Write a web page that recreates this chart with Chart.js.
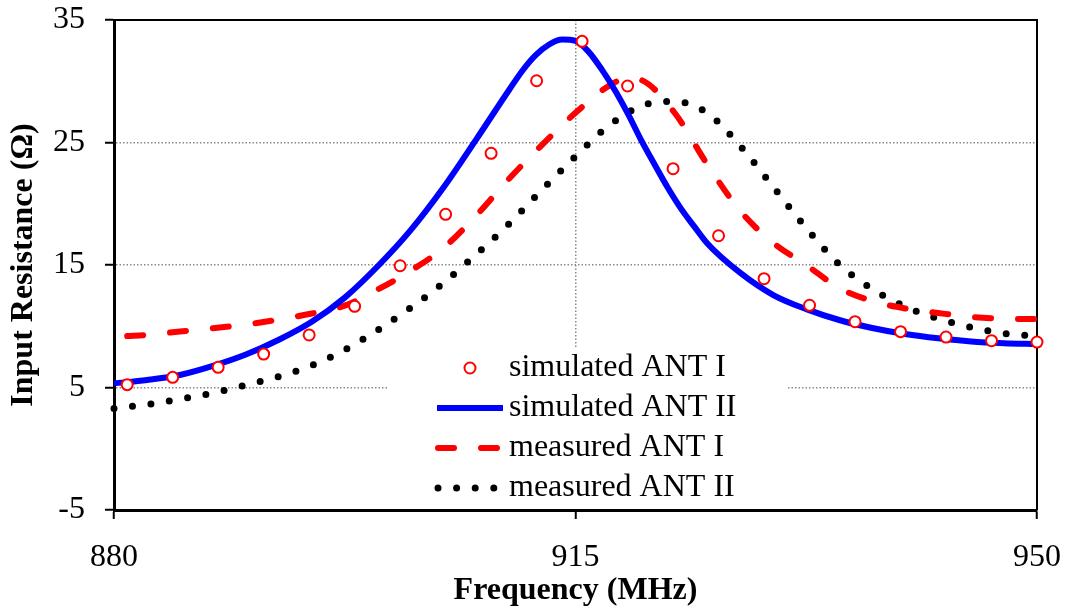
<!DOCTYPE html>
<html>
<head>
<meta charset="utf-8">
<title>Input Resistance</title>
<script src="https://cdn.jsdelivr.net/npm/chart.js@4.4.1/dist/chart.umd.min.js"></script>
<style>
  html, body { margin: 0; padding: 0; background: #fff; }
  #wrap { width: 1069px; height: 614px; }
</style>
</head>
<body>
<div id="wrap"><canvas id="chart" width="1069" height="614"></canvas></div>
<script>
// ---- data ----
const freqSimI = [881, 884.45, 887.9, 891.35, 894.8, 898.25, 901.7, 905.15, 908.6, 912.05, 915.5,
                  918.95, 922.4, 925.85, 929.3, 932.75, 936.2, 939.65, 943.1, 946.55, 950];
const simAnt1 = [5.23, 5.83, 6.65, 7.73, 9.29, 11.63, 14.94, 19.14, 24.12, 30.04, 33.26,
                 29.61, 22.86, 17.39, 13.88, 11.71, 10.37, 9.56, 9.12, 8.82, 8.71];

const freqSimII = [880, 882.5, 885, 887.5, 890, 892.5, 895, 897.5, 900, 902.5, 905, 907.5, 910, 911,
                   912, 913, 914, 915, 916, 917, 918, 919, 920, 921, 922, 923, 924, 925, 927.5, 930, 932.5,
                   935, 937.5, 940, 942.5, 945, 947.5, 950];
const simAnt2 = [5.33, 5.61, 6.02, 6.76, 7.69, 8.9, 10.37, 12.34, 14.9, 17.85, 21.35, 25.3, 29.35, 30.9,
                 32.15, 33.0, 33.4, 33.3, 32.4, 30.95, 29.25, 27.3, 25.15, 23.2, 21.3, 19.6, 18.15, 16.75, 14.35, 12.55, 11.4,
                 10.51, 9.86, 9.37, 9.02, 8.76, 8.62, 8.55];

const freqMeasI = [881, 882.5, 885, 887.5, 890, 892.5, 895, 897.5, 900, 902.5, 905, 907.5, 910, 912.5, 915,
                   917.5, 919, 920, 922.5, 925, 927.5, 930, 932.5, 935, 937.5, 940, 942.5, 945, 947.5, 950];
const measAnt1 = [9.2, 9.29, 9.57, 9.84, 10.14, 10.55, 11.04, 11.68, 13.0, 14.53, 16.41, 19.07, 22.08, 24.85, 27.42,
                  29.6, 30.25, 30.1, 27.45, 23.2, 19.41, 16.8, 15.0, 13.12, 12.06, 11.45, 11.08, 10.76, 10.62, 10.59];

const freqMeasII = [880, 882.5, 885, 887.5, 890, 892.5, 895, 897.5, 900, 902.5, 905, 907.5, 910, 912.5, 915,
                    917.5, 920, 922.5, 925, 927.5, 930, 932.5, 935, 937.5, 940, 942.5, 945, 947.5, 950];
const measAnt2 = [3.29, 3.61, 4.06, 4.55, 5.2, 5.9, 6.8, 8.07, 9.69, 11.51, 13.55, 15.9, 18.4, 21.19, 23.87,
                  26.35, 27.99, 28.36, 27.41, 24.71, 21.37, 18.02, 15.06, 13.04, 11.61, 10.62, 9.92, 9.41, 9.2];

const xTicks = [880, 915, 950];
const yTicks = [-5, 5, 15, 25, 35];
const xGrid = [915];
const yGrid = [5, 15, 25];

const FONT = "'Liberation Serif', 'Times New Roman', serif";

const pts = (xs, ys) => xs.map((x, i) => ({ x: x, y: ys[i] }));

// white legend box, top/right frame, legend entries
const boxPlugin = {
  id: 'box',
  beforeDatasetsDraw(chart) {
    const { ctx, chartArea: a } = chart;
    ctx.save();
    ctx.fillStyle = '#fff';
    ctx.fillRect(387, 347, 400, 161);
    ctx.strokeStyle = '#000';
    ctx.lineWidth = 2;
    ctx.beginPath();
    ctx.moveTo(a.left, a.top);
    ctx.lineTo(a.right, a.top);
    ctx.lineTo(a.right, a.bottom);
    ctx.stroke();
    ctx.restore();
  },
  afterDatasetsDraw(chart) {
    const { ctx } = chart;
    const sets = chart.data.datasets;
    ctx.save();
    sets.forEach((ds, i) => {
      const y = 368 + 40 * i;
      ctx.setLineDash([]);
      if (ds.showLine === false) {
        ctx.beginPath();
        ctx.arc(470, y, ds.pointRadius, 0, Math.PI * 2);
        ctx.fillStyle = ds.pointBackgroundColor;
        ctx.fill();
        ctx.lineWidth = ds.pointBorderWidth;
        ctx.strokeStyle = ds.pointBorderColor;
        ctx.stroke();
      } else {
        ctx.beginPath();
        ctx.lineWidth = ds.borderWidth;
        ctx.strokeStyle = ds.borderColor;
        ctx.lineCap = ds.borderCapStyle || 'butt';
        ctx.setLineDash(ds.borderDash || []);
        if (ds.borderDash) {
          ctx.moveTo(438, y);
          ctx.lineTo(501, y);
        } else {
          ctx.moveTo(437, y);
          ctx.lineTo(503, y);
        }
        ctx.stroke();
      }
      ctx.setLineDash([]);
      ctx.fillStyle = '#000';
      ctx.font = '32px ' + FONT;
      ctx.textAlign = 'left';
      ctx.textBaseline = 'middle';
      ctx.fillText(ds.label, 509, y);
    });
    ctx.restore();
  }
};

new Chart(document.getElementById('chart').getContext('2d'), {
  type: 'line',
  data: {
    datasets: [
      {
        label: 'simulated ANT I',
        data: pts(freqSimI, simAnt1),
        showLine: false,
        pointRadius: 5.5,
        pointBorderWidth: 2,
        pointBorderColor: '#ff0000',
        pointBackgroundColor: '#ffffff',
        borderColor: '#ff0000',
        clip: false
      },
      {
        label: 'simulated ANT II',
        data: pts(freqSimII, simAnt2),
        borderColor: '#0000ff',
        borderWidth: 6,
        pointRadius: 0,
        cubicInterpolationMode: 'monotone',
        fill: false
      },
      {
        label: 'measured ANT I',
        data: pts(freqMeasI, measAnt1),
        borderColor: '#ff0000',
        borderWidth: 6,
        borderDash: [16, 27],
        borderCapStyle: 'round',
        pointRadius: 0,
        cubicInterpolationMode: 'monotone',
        fill: false,
        clip: false
      },
      {
        label: 'measured ANT II',
        data: pts(freqMeasII, measAnt2),
        borderColor: '#000000',
        borderWidth: 7,
        borderDash: [0, 18.6],
        borderCapStyle: 'round',
        pointRadius: 0,
        cubicInterpolationMode: 'monotone',
        fill: false,
        clip: false
      }
    ]
  },
  options: {
    responsive: false,
    animation: false,
    layout: { padding: { top: 20, right: 32, left: 0, bottom: 0 } },
    plugins: { legend: { display: false }, tooltip: { enabled: false } },
    scales: {
      x: {
        type: 'linear',
        min: 880,
        max: 950,
        afterBuildTicks: s => { s.ticks = xTicks.map(v => ({ value: v })); },
        afterFit: s => { s.height = 104; s.paddingLeft = 0; s.paddingRight = 0; },
        ticks: { color: '#000', padding: 19, font: { family: FONT, size: 32 } },
        grid: {
          color: c => (c.tick && xGrid.includes(c.tick.value)) ? '#8a8a8a' : 'rgba(0,0,0,0)',
          lineWidth: 1.5,
          tickColor: '#000',
          tickLength: 9,
          tickWidth: 2
        },
        border: { color: '#000', width: 3, dash: [1.5, 2] },
        title: {
          display: true,
          text: 'Frequency (MHz)',
          color: '#000',
          padding: { top: 0, bottom: 4 },
          font: { family: FONT, size: 32, weight: 'bold' }
        }
      },
      y: {
        min: -5,
        max: 35,
        afterBuildTicks: s => { s.ticks = yTicks.map(v => ({ value: v })); },
        afterFit: s => { s.width = 114; s.paddingTop = 0; s.paddingBottom = 0; },
        ticks: { color: '#000', padding: 20, font: { family: FONT, size: 32 } },
        grid: {
          color: c => (c.tick && yGrid.includes(c.tick.value)) ? '#8a8a8a' : 'rgba(0,0,0,0)',
          lineWidth: 1.5,
          tickColor: '#000',
          tickLength: 9,
          tickWidth: 2
        },
        border: { color: '#000', width: 3, dash: [1.5, 2] },
        title: {
          display: true,
          text: 'Input Resistance (Ω)',
          color: '#000',
          padding: { top: 5, bottom: 0 },
          font: { family: FONT, size: 32, weight: 'bold' }
        }
      }
    }
  },
  plugins: [boxPlugin]
});
</script>
</body>
</html>
